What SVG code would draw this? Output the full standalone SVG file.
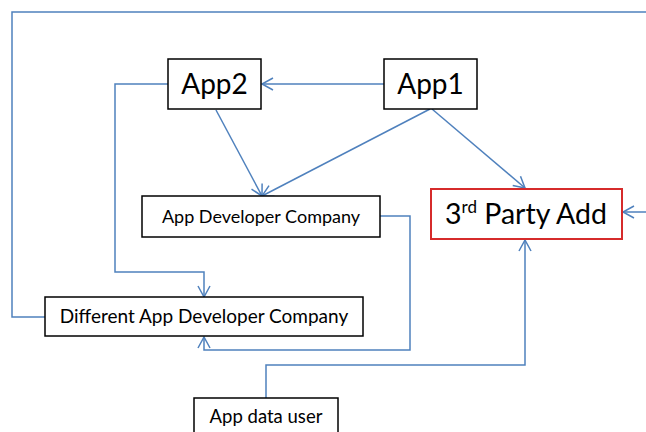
<svg xmlns="http://www.w3.org/2000/svg" width="646" height="432" viewBox="0 0 646 432">
<style>
.box{fill:#fff;stroke:#000;stroke-width:1.5}
.red{fill:#fff;stroke:#d62b2b;stroke-width:2}
.c{fill:none;stroke:#4f81bd;stroke-width:1.5}
text{font-family:Lato,"Liberation Sans",sans-serif;fill:#000;text-anchor:middle}
</style>
<defs>
<marker id="a" markerWidth="14" markerHeight="14" refX="12" refY="7" orient="auto" markerUnits="userSpaceOnUse">
<path d="M1,1 L12,7 L1,13" fill="none" stroke="#4f81bd" stroke-width="1.5"/>
</marker>
</defs>
<rect width="646" height="432" fill="#fff"/>
<g id="connectors">
<path class="c" d="M646,12 H12 V317 H45"/>
<path class="c" d="M384,84 H262" marker-end="url(#a)"/>
<path class="c" d="M168,84 H115 V272 H204 V297" marker-end="url(#a)"/>
<path class="c" d="M216,110 L262,196" marker-end="url(#a)"/>
<path class="c" d="M430,109 L262,196" marker-end="url(#a)"/>
<path class="c" d="M432,109 L525,188" marker-end="url(#a)"/>
<path class="c" d="M646,212 H623" marker-end="url(#a)"/>
<path class="c" d="M380,216 H410 V350 H204 V337" marker-end="url(#a)"/>
<path class="c" d="M266,398 V365 H525 V240" marker-end="url(#a)"/>
</g>
<g id="app2"><rect class="box" x="168" y="59" width="93" height="50"/><text x="214.5" y="94" font-size="28">App2</text></g>
<g id="app1"><rect class="box" x="384" y="59" width="93" height="50"/><text x="430.5" y="94" font-size="28">App1</text></g>
<g id="adc"><rect class="box" x="142" y="196" width="238" height="41"/><text x="261" y="223" font-size="18">App Developer Company</text></g>
<g id="third"><rect class="red" x="431" y="189" width="191" height="50"/><text x="526" y="224" font-size="28.5">3<tspan font-size="17" dy="-11">rd</tspan><tspan dy="11"> Party Add</tspan></text></g>
<g id="dadc"><rect class="box" x="45" y="297" width="318" height="39"/><text x="204" y="323" font-size="19">Different App Developer Company</text></g>
<g id="user"><rect class="box" x="194" y="398" width="144" height="44"/><text x="266" y="423" font-size="18.5">App data user</text></g>
</svg>
